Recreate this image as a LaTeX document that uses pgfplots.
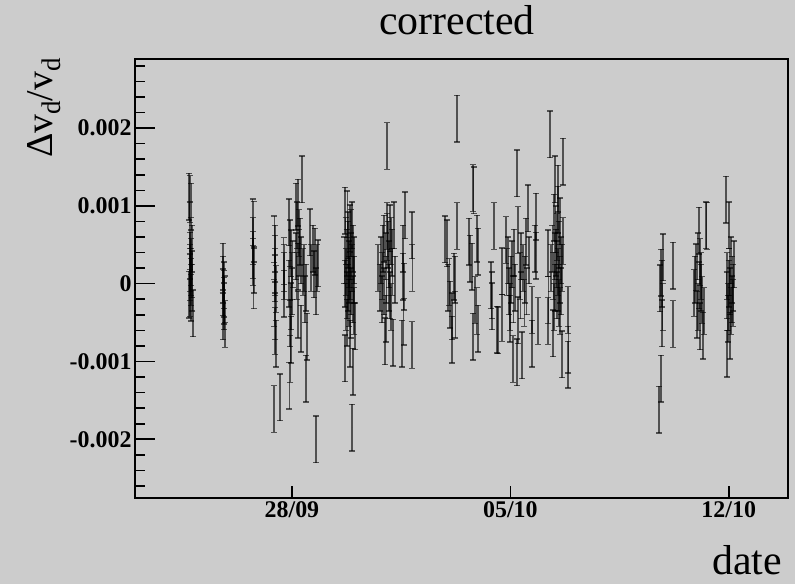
\documentclass[border=0pt]{standalone}
\usepackage{fontspec}
\setmainfont{Liberation Serif}
\usepackage{pgfplots}
\usepackage{pgfplotstable}
\pgfplotsset{compat=1.18}
\definecolor{bg}{HTML}{CCCCCC}

\pgfplotstableread{
x y
-3.29 1.12e-3
-3.27 1.09e-3
-3.22 0.99e-3
-3.28 0.75e-3
-3.25 0.55e-3
-3.20 0.45e-3
-3.27 0.36e-3
-3.23 0.28e-3
-3.26 0.20e-3
-3.21 0.12e-3
-3.28 0.08e-3
-3.24 0.02e-3
-3.19 -0.05e-3
-3.27 -0.12e-3
-3.23 -0.18e-3
-3.17 -0.38e-3
-3.25 0.15e-3
-3.29 -0.14e-3
-2.22 0.22e-3
-2.20 0.05e-3
-2.18 -0.02e-3
-2.21 -0.11e-3
-2.17 -0.22e-3
-2.19 -0.13e-3
-2.16 -0.20e-3
-2.22 -0.42e-3
-2.15 -0.52e-3
-2.18 -0.29e-3
-1.26 0.79e-3
-1.23 0.76e-3
-1.25 0.37e-3
-1.24 0.28e-3
-1.22 0.18e-3
-1.23 -0.02e-3
-1.25 0.55e-3
-0.56 0.57e-3
-0.54 0.45e-3
-0.53 0.32e-3
-0.55 0.07e-3
-0.52 -0.77e-3
-0.54 -0.61e-3
-0.53 -0.42e-3
-0.56 -0.25e-3
-0.52 -0.07e-3
-0.54 0.15e-3
-0.58 -1.61e-3
-0.39 -1.46e-3
-0.27 0.29e-3
-0.25 -0.13e-3
-0.26 0.10e-3
-0.24 0.20e-3
-0.10 0.79e-3
-0.06 0.52e-3
-0.03 0.39e-3
-0.08 -1.31e-3
-0.05 -0.97e-3
-0.02 -0.72e-3
-0.07 -0.51e-3
-0.04 -0.29e-3
-0.01 0.10e-3
0.02 0.25e-3
-0.09 0.00e-3
0.00 -0.10e-3
0.32 1.34e-3
0.19 1.04e-3
0.13 0.99e-3
0.16 0.75e-3
0.22 0.65e-3
0.26 0.54e-3
0.19 -0.40e-3
0.29 -0.58e-3
0.48 -0.68e-3
0.45 -1.22e-3
0.12 0.35e-3
0.20 0.22e-3
0.24 0.40e-3
0.15 0.10e-3
0.28 0.30e-3
0.35 0.15e-3
0.42 -0.20e-3
0.44 -0.05e-3
0.39 0.20e-3
0.58 0.66e-3
0.67 0.45e-3
0.74 0.41e-3
0.83 0.26e-3
0.77 -0.10e-3
0.70 0.12e-3
0.62 0.20e-3
0.77 -2.00e-3
0.80 0.20e-3
1.70 0.94e-3
1.78 0.89e-3
1.85 0.71e-3
1.90 0.65e-3
1.72 0.55e-3
1.80 0.50e-3
1.95 0.45e-3
1.75 0.40e-3
1.88 0.35e-3
1.68 0.30e-3
1.82 0.25e-3
1.92 0.20e-3
1.74 0.15e-3
1.86 0.10e-3
1.98 0.05e-3
1.70 0.00e-3
1.80 -0.05e-3
1.90 -0.10e-3
1.76 -0.15e-3
1.95 -0.20e-3
1.84 -0.25e-3
1.72 -0.30e-3
2.00 -0.35e-3
1.88 -0.40e-3
2.03 -0.55e-3
1.70 -0.96e-3
1.87 -0.77e-3
1.95 -1.13e-3
1.93 -1.85e-3
1.79 0.62e-3
1.83 0.05e-3
1.99 0.30e-3
1.77 -0.50e-3
1.92 0.75e-3
3.05 1.77e-3
3.05 0.74e-3
3.15 0.71e-3
3.27 0.75e-3
2.95 0.58e-3
2.76 0.20e-3
2.98 -0.74e-3
3.25 -0.76e-3
3.02 -0.45e-3
3.18 -0.30e-3
2.85 0.30e-3
2.92 0.45e-3
3.00 0.35e-3
3.08 0.50e-3
3.12 0.25e-3
3.20 0.40e-3
2.90 0.10e-3
3.03 0.05e-3
3.10 -0.05e-3
3.22 0.15e-3
2.88 -0.20e-3
2.96 -0.10e-3
3.14 -0.15e-3
3.30 0.05e-3
3.06 0.60e-3
2.82 -0.05e-3
3.17 0.55e-3
3.62 0.88e-3
3.55 0.09e-3
3.53 -0.77e-3
3.60 -0.04e-3
3.58 -0.49e-3
3.85 0.62e-3
3.86 0.20e-3
3.84 -0.79e-3
3.57 0.45e-3
4.90 0.57e-3
4.97 0.52e-3
5.00 -0.05e-3
5.05 0.02e-3
5.12 -0.72e-3
5.14 -0.42e-3
5.06 -0.27e-3
5.20 0.09e-3
5.29 0.74e-3
5.29 2.12e-3
5.22 0.05e-3
5.24 -0.40e-3
5.67 0.54e-3
5.70 0.32e-3
5.77 0.22e-3
5.80 1.23e-3
5.82 1.20e-3
5.80 -0.68e-3
5.93 0.58e-3
5.96 0.41e-3
5.87 -0.21e-3
5.92 -0.35e-3
5.96 -0.58e-3
6.47 0.74e-3
6.38 -0.02e-3
6.42 -0.29e-3
6.40 -0.15e-3
6.60 -0.60e-3
6.73 0.16e-3
6.73 -0.44e-3
6.57 -0.59e-3
6.86 0.56e-3
6.88 0.15e-3
6.92 0.30e-3
6.95 -0.10e-3
6.98 -0.30e-3
7.02 0.05e-3
7.05 0.25e-3
7.08 -0.97e-3
7.10 -0.20e-3
7.12 0.40e-3
7.21 1.42e-3
7.24 0.69e-3
7.24 -0.47e-3
7.22 -1.01e-3
7.30 0.10e-3
7.33 -0.15e-3
7.37 -0.92e-3
7.40 0.20e-3
7.45 -0.25e-3
7.50 0.54e-3
7.48 0.05e-3
7.56 0.97e-3
7.60 0.30e-3
7.69 -0.77e-3
7.69 -0.34e-3
7.82 0.86e-3
7.82 0.36e-3
7.88 -0.48e-3
7.15 -0.05e-3
7.00 -0.45e-3
7.35 0.35e-3
7.52 -0.10e-3
7.78 0.45e-3
8.27 1.92e-3
8.43 1.34e-3
8.53 1.22e-3
8.69 1.57e-3
8.21 0.39e-3
8.22 -0.21e-3
8.20 -0.48e-3
8.37 -0.64e-3
8.65 -0.91e-3
8.85 -1.04e-3
8.86 -0.85e-3
8.84 -0.34e-3
8.40 0.85e-3
8.45 0.70e-3
8.50 0.60e-3
8.55 0.50e-3
8.60 0.80e-3
8.35 0.45e-3
8.42 0.35e-3
8.48 0.25e-3
8.52 0.15e-3
8.58 0.05e-3
8.62 0.30e-3
8.38 0.10e-3
8.44 -0.05e-3
8.50 -0.15e-3
8.56 -0.25e-3
8.60 -0.35e-3
8.65 0.20e-3
8.40 -0.30e-3
8.47 0.40e-3
8.54 -0.05e-3
8.30 0.20e-3
8.63 -0.10e-3
8.68 0.55e-3
8.52 0.95e-3
11.89 0.34e-3
11.83 0.14e-3
11.80 -0.06e-3
11.86 -0.51e-3
11.88 -0.30e-3
11.85 0.00e-3
11.83 -1.22e-3
11.76 -1.62e-3
12.21 0.23e-3
12.21 -0.52e-3
13.04 0.68e-3
13.27 0.75e-3
13.29 0.74e-3
12.95 0.21e-3
12.92 0.05e-3
12.88 -0.12e-3
13.08 0.28e-3
13.06 -0.02e-3
13.08 -0.55e-3
13.17 -0.67e-3
13.15 -0.21e-3
13.12 -0.05e-3
13.02 -0.30e-3
12.98 -0.40e-3
13.10 0.10e-3
13.20 -0.35e-3
13.00 0.35e-3
13.91 1.08e-3
14.01 0.75e-3
14.07 0.30e-3
14.17 0.25e-3
13.94 -0.90e-3
14.04 -0.67e-3
13.95 0.10e-3
14.00 0.00e-3
14.05 -0.10e-3
14.10 -0.20e-3
13.98 -0.30e-3
14.12 0.05e-3
14.15 -0.05e-3
13.93 -0.15e-3
14.08 -0.35e-3
14.02 0.15e-3
14.14 -0.25e-3
13.97 -0.45e-3
}\drift

\begin{document}
\begin{tikzpicture}
\fill[bg] (0,0) rectangle (795bp,584bp);
\begin{axis}[
  at={(135bp,86bp)}, anchor=south west,
  scale only axis, width=653bp, height=439bp,
  xmin=-5.03, xmax=15.9, ymin=-2.755e-3, ymax=2.888e-3,
  axis line style={line width=1.6bp},
  tick pos=left, tick align=inside,
  xtick={0,7,14}, xticklabels={28/09,05/10,12/10},
  ytick={-0.002,-0.001,0,0.001,0.002},
  yticklabels={-0.002,-0.001,0,0.001,0.002},
  scaled y ticks=false,
  minor ytick={-0.0026,-0.0024,-0.0022,-0.0018,-0.0016,-0.0014,-0.0012,-0.0008,-0.0006,-0.0004,-0.0002,0.0002,0.0004,0.0006,0.0008,0.0012,0.0014,0.0016,0.0018,0.0022,0.0024,0.0026,0.0028},
  xtick style={/pgfplots/major tick length=12bp, line width=1.6bp, black},
  ytick style={/pgfplots/major tick length=20bp, /pgfplots/minor tick length=10bp, line width=1.6bp, black},
  xticklabel style={font=\fontsize{24}{24}\selectfont\bfseries},
  yticklabel style={font=\fontsize{24}{24}\selectfont\bfseries},
]
\addplot[draw=none, mark=none,
  error bars/.cd, y dir=both, y fixed=0.0003,
  error bar style={line width=1.7bp, black, opacity=0.6},
  error mark=-,
  error mark options={rotate=90, black, opacity=0.6, line width=1.3bp, mark size=3bp}]
  table[x=x, y=y] {\drift};
\end{axis}
\node[anchor=base, font=\fontsize{42}{42}\selectfont] at (457bp,549bp) {corrected};
\node[anchor=base east, font=\fontsize{42}{42}\selectfont, inner sep=0pt] at (782bp,10bp) {date};
\node[anchor=base east, rotate=90, inner sep=0pt, font=\fontsize{38}{38}\selectfont] at (52bp,526bp)
  {Δv\raisebox{-8bp}{\fontsize{27}{27}\selectfont d}/v\raisebox{-8bp}{\fontsize{27}{27}\selectfont d}};
\pgfresetboundingbox
\useasboundingbox (0,0) rectangle (795bp,584bp);
\end{tikzpicture}
\end{document}
